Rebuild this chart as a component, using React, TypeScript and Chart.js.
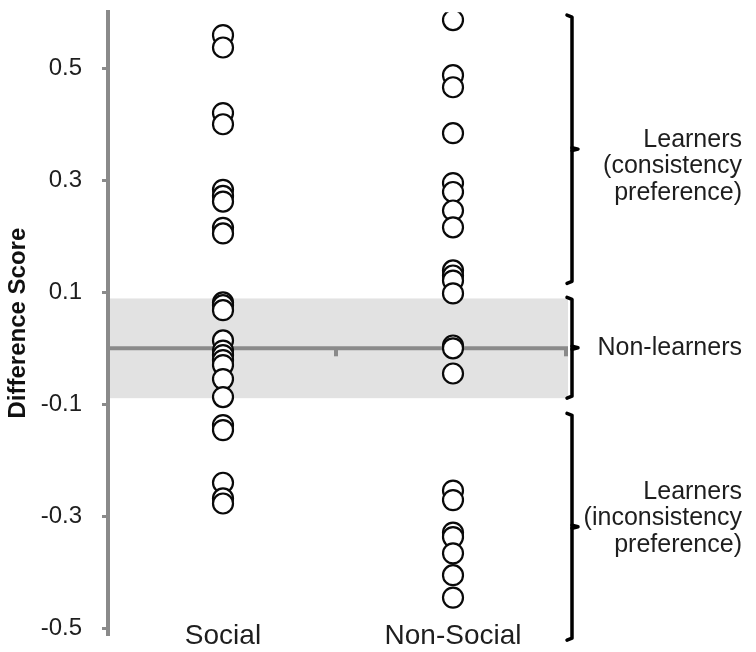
import React, { useEffect, useRef } from 'react';
import { Chart, registerables } from 'chart.js';

Chart.register(...registerables);

const categories = ['Social', 'Non-Social'];
const socialScores = [
  0.559, 0.537, 0.42, 0.4, 0.283, 0.272, 0.262, 0.215, 0.205, 0.082, 0.077, 0.068,
  0.014, -0.004, -0.012, -0.021, -0.03, -0.055, -0.087, -0.137, -0.146, -0.24, -0.268, -0.277,
];
const nonSocialScores = [
  0.586, 0.4875, 0.466, 0.384, 0.295, 0.279, 0.246, 0.216, 0.139, 0.13, 0.121, 0.098,
  0.005, 0.0, -0.045, -0.254, -0.271, -0.329, -0.337, -0.366, -0.405, -0.445,
];
const yTicks = [-0.5, -0.3, -0.1, 0.1, 0.3, 0.5];
const meanValue = 0;
const nonLearnerBand = [-0.089, 0.089];
const groupRanges = [
  [0.595, 0.116],
  [0.091, -0.089],
  [-0.116, -0.521],
];
const groupLabels = [
  ['Learners', '(consistency', 'preference)'],
  ['Non-learners'],
  ['Learners', '(inconsistency', 'preference)'],
];
const groupLabelCenters = [0.325, 0, -0.304];

const FONT = "'Liberation Sans', Arial, Helvetica, sans-serif";
const AXIS_GRAY = '#8a8a8a';
const TEXT = '#1e1e1e';

const overlayPlugin = {
  id: 'overlay',
  beforeDraw(chart: any) {
    const { ctx, scales } = chart;
    const x = scales.x;
    const y = scales.y;
    ctx.save();
    ctx.fillStyle = '#e2e2e2';
    const top = y.getPixelForValue(nonLearnerBand[1]);
    const bot = y.getPixelForValue(nonLearnerBand[0]);
    const left = x.getPixelForValue(0);
    const right = x.getPixelForValue(2);
    ctx.fillRect(left, top, right - left, bot - top);
    ctx.restore();
  },
  beforeDatasetsDraw(chart: any) {
    const { ctx, scales } = chart;
    const x = scales.x;
    const y = scales.y;
    const y0 = y.getPixelForValue(meanValue);
    ctx.save();
    ctx.strokeStyle = AXIS_GRAY;
    ctx.lineWidth = 4;
    ctx.beginPath();
    ctx.moveTo(x.getPixelForValue(0), y0);
    ctx.lineTo(x.getPixelForValue(2), y0);
    ctx.stroke();
    [1, 2].forEach((v) => {
      const px = x.getPixelForValue(v) - 2;
      ctx.beginPath();
      ctx.moveTo(px, y0);
      ctx.lineTo(px, y0 + 8);
      ctx.stroke();
    });
    ctx.restore();
  },
  afterDraw(chart: any) {
    const { ctx, chartArea, scales } = chart;
    const x = scales.x;
    const y = scales.y;
    ctx.save();
    ctx.fillStyle = TEXT;
    ctx.font = `28px ${FONT}`;
    ctx.textAlign = 'center';
    ctx.textBaseline = 'middle';
    categories.forEach((c, i) => {
      ctx.fillText(c, x.getPixelForValue(i + 0.5), chartArea.bottom + 2);
    });
    const bx = chartArea.right + 4;
    ctx.strokeStyle = '#000';
    ctx.lineWidth = 3.5;
    ctx.lineJoin = 'round';
    ctx.lineCap = 'round';
    groupRanges.forEach(([a, b]) => {
      const t = y.getPixelForValue(a);
      const bt = y.getPixelForValue(b);
      const mid = (t + bt) / 2;
      ctx.beginPath();
      ctx.moveTo(bx - 5, t);
      ctx.lineTo(bx, t + 2);
      ctx.lineTo(bx, bt - 2);
      ctx.lineTo(bx - 5, bt);
      ctx.stroke();
      ctx.beginPath();
      ctx.moveTo(bx, mid - 1.5);
      ctx.lineTo(bx + 6, mid);
      ctx.lineTo(bx, mid + 1.5);
      ctx.stroke();
    });
    ctx.font = `25px ${FONT}`;
    ctx.textAlign = 'right';
    ctx.fillStyle = TEXT;
    const lh = 26.5;
    groupLabels.forEach((lines, i) => {
      const c = y.getPixelForValue(groupLabelCenters[i]);
      const start = c - ((lines.length - 1) * lh) / 2;
      lines.forEach((ln, j) => ctx.fillText(ln, 742, start + j * lh));
    });
    ctx.restore();
  },
};

export default function App() {
  const ref = useRef<HTMLCanvasElement | null>(null);
  useEffect(() => {
    document.body.style.margin = '0';
    const canvas = ref.current;
    if (!canvas) return;
    const chart = new Chart(canvas, {
      type: 'scatter',
      data: {
        datasets: [
          {
            label: categories[0],
            data: socialScores.map((v) => ({ x: 0.5, y: v })),
          },
          {
            label: categories[1],
            data: nonSocialScores.map((v) => ({ x: 1.5, y: v })),
          },
        ].map((d) => ({
          ...d,
          pointRadius: 10,
          pointHoverRadius: 10,
          pointBackgroundColor: '#ffffff',
          pointBorderColor: '#0a0a0a',
          pointBorderWidth: 2.2,
        })),
      },
      options: {
        responsive: false,
        animation: false,
        layout: { padding: { left: 0, top: 12, right: 188, bottom: 18 } },
        plugins: { legend: { display: false }, tooltip: { enabled: false } },
        scales: {
          x: { type: 'linear', min: 0, max: 2, display: false },
          y: {
            type: 'linear',
            min: -0.51,
            max: 0.6,
            afterBuildTicks: (s: any) => {
              s.ticks = yTicks.map((v) => ({ value: v }));
            },
            afterFit: (s: any) => {
              s.width = 108;
              s.paddingTop = 0;
              s.paddingBottom = 0;
            },
            border: { display: true, color: AXIS_GRAY, width: 4 },
            grid: {
              display: true,
              drawOnChartArea: false,
              drawTicks: true,
              tickLength: 6,
              color: AXIS_GRAY,
              lineWidth: 3,
            },
            ticks: {
              font: { size: 24, family: FONT },
              color: TEXT,
              padding: 20,
              callback: (v: any) => Number(v).toFixed(1),
            },
            title: {
              display: true,
              text: 'Difference Score',
              font: { size: 24, weight: 'bold', family: FONT },
              color: '#111',
              padding: { top: 4, bottom: 0 },
            },
          },
        },
      },
      plugins: [overlayPlugin],
    });
    return () => chart.destroy();
  }, []);
  return <canvas ref={ref} width={756} height={652} style={{ display: 'block' }} />;
}
